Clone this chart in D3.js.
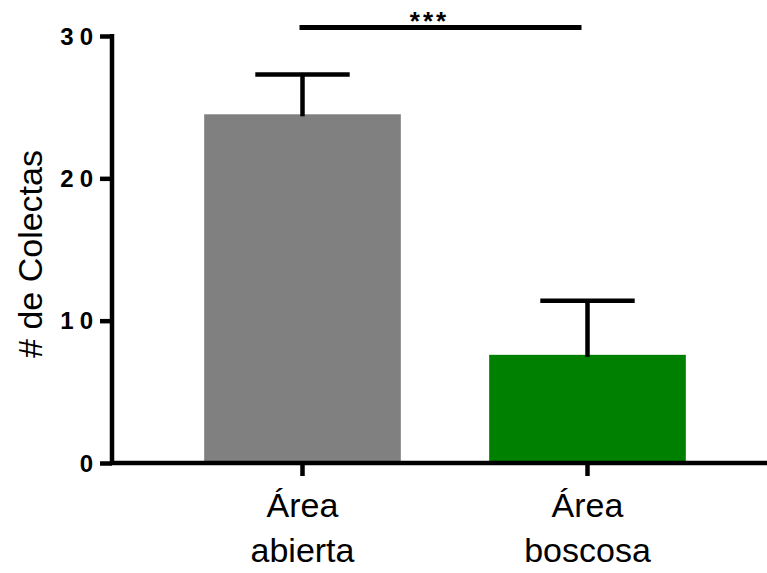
<!DOCTYPE html>
<html>
<head>
<meta charset="utf-8">
<script src="https://cdn.jsdelivr.net/npm/d3@7"></script>
<style>
  body { margin: 0; background: #fff; }
  svg { display: block; }
</style>
</head>
<body>
<svg id="chart" width="767" height="573"></svg>
<script>
// Collections per habitat type: mean with SEM error bars
const categories = ["Área abierta", "Área boscosa"];
const categoryLines = [["Área", "abierta"], ["Área", "boscosa"]];
const means = [24.5, 7.6];
const errors = [2.8, 3.8];
const colors = ["#808080", "#008000"];
const yTicks = [0, 10, 20, 30];
const yLabel = "# de Colectas";
const significance = "***";
const sigLevel = 30.6;

const svg = d3.select("#chart");
const font = "'Liberation Sans', Arial, Helvetica, sans-serif";

const y = d3.scaleLinear().domain([0, 30]).range([463, 36]);
const x = d3.scaleBand().domain(categories).range([160, 730])
  .paddingInner(0.31).paddingOuter(0.155);

const axisLeftX = 112;
const axisRightX = 767;

// Bars
svg.selectAll("rect.bar").data(categories).join("rect")
  .attr("class", "bar")
  .attr("x", d => x(d))
  .attr("width", x.bandwidth())
  .attr("y", (d, i) => y(means[i]))
  .attr("height", (d, i) => y(0) - y(means[i]))
  .attr("fill", (d, i) => colors[i]);

// Error bars (upper only)
const errG = svg.append("g").attr("stroke", "#000").attr("stroke-width", 4.5);
categories.forEach((c, i) => {
  const cx = x(c) + x.bandwidth() / 2;
  const capHalf = x.bandwidth() * 0.24;
  errG.append("line")
    .attr("x1", cx).attr("x2", cx)
    .attr("y1", y(means[i]) + 2).attr("y2", y(means[i] + errors[i]));
  errG.append("line")
    .attr("x1", cx - capHalf).attr("x2", cx + capHalf)
    .attr("y1", y(means[i] + errors[i])).attr("y2", y(means[i] + errors[i]));
});

// Y axis
const yAxis = svg.append("g").attr("transform", `translate(${axisLeftX},0)`)
  .call(d3.axisLeft(y).tickValues(yTicks).tickSize(12).tickFormat(""));
yAxis.select(".domain").remove();
yAxis.selectAll(".tick line").attr("stroke", "#000").attr("stroke-width", 4.5);
svg.append("g").selectAll("text").data(yTicks).join("text")
  .attr("x", 93)
  .attr("y", d => y(d))
  .attr("dy", "0.36em")
  .attr("text-anchor", "end")
  .attr("fill", "#000")
  .attr("font-family", font)
  .attr("font-weight", "bold")
  .attr("font-size", 24)
  .each(function (d) {
    // spread the digits apart
    const sel = d3.select(this);
    String(d).split("").forEach((ch, k) => {
      sel.append("tspan").attr("dx", k === 0 ? 0 : 6).text(ch);
    });
  });
svg.append("line")
  .attr("x1", axisLeftX).attr("x2", axisLeftX)
  .attr("y1", y(30) - 2).attr("y2", y(0) + 2)
  .attr("stroke", "#000").attr("stroke-width", 4.5);

// X axis
const xAxis = svg.append("g").attr("transform", `translate(0,${y(0)})`)
  .call(d3.axisBottom(x).tickSize(13).tickFormat(""));
xAxis.select(".domain").remove();
xAxis.selectAll(".tick line").attr("stroke", "#000").attr("stroke-width", 4.5);
svg.append("line")
  .attr("x1", axisLeftX - 2).attr("x2", axisRightX)
  .attr("y1", y(0)).attr("y2", y(0))
  .attr("stroke", "#000").attr("stroke-width", 4.5);

// Category labels on two lines
categories.forEach((c, i) => {
  const t = svg.append("text")
    .attr("x", x(c) + x.bandwidth() / 2)
    .attr("y", 517)
    .attr("text-anchor", "middle")
    .attr("font-family", font)
    .attr("font-size", 34)
    .attr("fill", "#000");
  categoryLines[i].forEach((line, k) => {
    t.append("tspan")
      .attr("x", x(c) + x.bandwidth() / 2)
      .attr("dy", k === 0 ? 0 : 45)
      .text(line);
  });
});

// Y axis title
svg.append("text")
  .attr("transform", "translate(42,254) rotate(-90)")
  .attr("text-anchor", "middle")
  .attr("font-family", font)
  .attr("font-size", 34)
  .attr("fill", "#000")
  .text(yLabel);

// Significance bracket
const x1c = x(categories[0]) + x.bandwidth() / 2;
const x2c = x(categories[1]) + x.bandwidth() / 2 - 6;
svg.append("line")
  .attr("x1", x1c - 3).attr("x2", x2c)
  .attr("y1", y(sigLevel)).attr("y2", y(sigLevel))
  .attr("stroke", "#000").attr("stroke-width", 5);
const stars = svg.append("text")
  .attr("x", 428)
  .attr("y", 30)
  .attr("text-anchor", "middle")
  .attr("font-family", font)
  .attr("font-size", 26)
  .attr("font-weight", "bold")
  .attr("fill", "#000");
significance.split("").forEach((ch, k) => {
  stars.append("tspan").attr("dx", k === 0 ? 0 : 3).text(ch);
});
</script>
</body>
</html>
